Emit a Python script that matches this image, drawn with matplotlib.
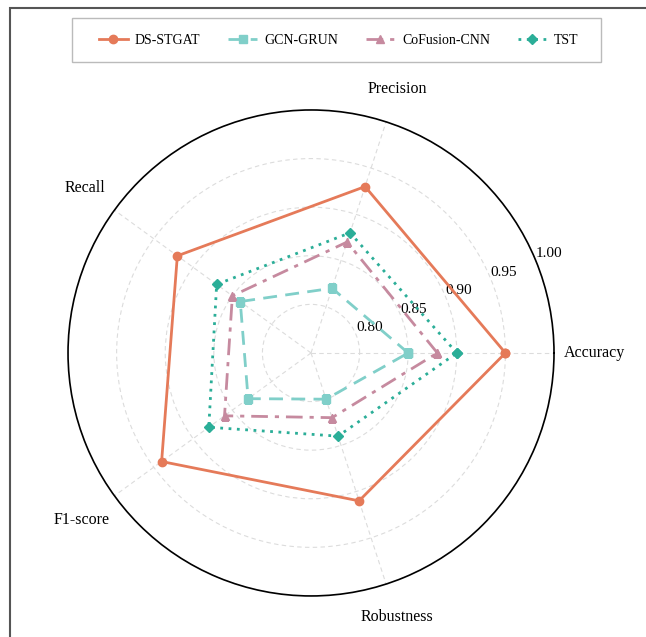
import numpy as np
import matplotlib.pyplot as plt
from matplotlib.patches import Rectangle

plt.rcParams['font.family'] = ['Liberation Serif', 'DejaVu Serif']

# metrics on each spoke, counter-clockwise from the right
METRICS = ["Accuracy", "Precision", "Recall", "F1-score", "Robustness"]

ds_stgat = [0.95, 0.93, 0.92, 0.94, 0.91]
gcn_grun = [0.85, 0.82, 0.84, 0.83, 0.80]
cofusion_cnn = [0.88, 0.87, 0.85, 0.86, 0.82]
tst = [0.90, 0.88, 0.87, 0.88, 0.84]

MODELS = ["DS-STGAT", "GCN-GRUN", "CoFusion-CNN", "TST"]
R_TICKS = [0.80, 0.85, 0.90, 0.95, 1.00]

STYLES = [
    dict(color="#E57A59", linestyle="-", marker="o"),
    dict(color="#80CFC9", linestyle=(0, (5, 3)), marker="s"),
    dict(color="#C68A9F", linestyle=(0, (6, 2.5, 1.5, 2.5)), marker="^"),
    dict(color="#2BAE98", linestyle=(0, (1, 2)), marker="D"),
]


def closed(vals):
    return list(vals) + [vals[0]]


def main():
    W, H = 646, 637
    fig = plt.figure(figsize=(W / 100, H / 100), dpi=100)
    ax = fig.add_axes([0.1053, 0.0644, 0.7523, 0.763], projection="polar")

    angles = np.linspace(0, 2 * np.pi, len(METRICS), endpoint=False)
    theta = closed(angles)

    series = [ds_stgat, gcn_grun, cofusion_cnn, tst]
    for name, vals, st in zip(MODELS, series, STYLES):
        ms = 6 if st["marker"] != "D" else 5.5
        ax.plot(theta, closed(vals), label=name, linewidth=2, markersize=ms,
                color=st["color"], linestyle=st["linestyle"],
                marker=st["marker"], zorder=3)

    ax.set_ylim(0.75, 1.0)
    ax.set_yticks(R_TICKS)
    ax.set_yticklabels([f"{v:.2f}" for v in R_TICKS], fontsize=11)
    ax.set_rlabel_position(22.5)

    ax.set_xticks(angles)
    ax.set_xticklabels([])
    label_r = [1.042, 1.036, 1.038, 1.042, 1.036]
    for a, lab, r in zip(angles, METRICS, label_r):
        ax.text(a, r, lab, ha="center", va="center", fontsize=11.5)

    ax.grid(True, color="#dcdcdc", linestyle=(0, (4, 3)), linewidth=0.8)
    ax.spines["polar"].set_color("black")
    ax.spines["polar"].set_linewidth(1.2)

    fig.legend(loc="center", bbox_to_anchor=(338.5 / W, 1 - 40 / H),
               ncol=4, fontsize=10, frameon=False, handlelength=2.1,
               handletextpad=0.5, columnspacing=2.0)
    # legend box drawn separately so its padding can be set freely
    box = Rectangle((72 / W, 1 - 62 / H), 529 / W, 44 / H,
                    transform=fig.transFigure, fill=False,
                    edgecolor="#bbbbbb", linewidth=1.0)
    fig.patches.append(box)

    # outer frame, only the top and left edges fall inside the canvas
    frame = Rectangle((10 / W, -0.5), 2, 0.5 + 1 - 8 / H,
                      transform=fig.transFigure, fill=False,
                      edgecolor="#555555", linewidth=1.5, clip_on=False)
    fig.patches.append(frame)

    fig.savefig("out.png", dpi=100)


if __name__ == "__main__":
    main()
